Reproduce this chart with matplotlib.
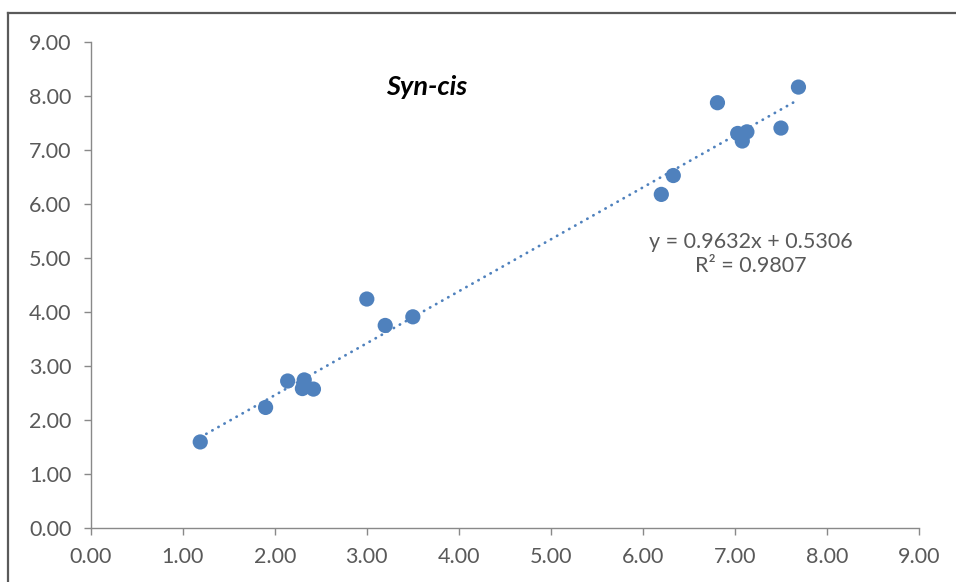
import matplotlib
matplotlib.use("Agg")
import matplotlib.pyplot as plt
from matplotlib.lines import Line2D
import numpy as np

# valeurs
x_vals = [1.19, 1.90, 2.14, 2.32, 2.30, 2.42, 3.00, 3.20, 3.50,
          6.20, 6.33, 6.81, 7.03, 7.08, 7.13, 7.50, 7.69]
y_vals = [1.59, 2.23, 2.72, 2.74, 2.58, 2.57, 4.24, 3.75, 3.91,
          6.18, 6.53, 7.88, 7.31, 7.17, 7.34, 7.41, 8.17]

# courbe de tendance affichée (Excel)
slope = 0.9632
intercept = 0.5306
r2 = 0.9807

ticks = [0, 1, 2, 3, 4, 5, 6, 7, 8, 9]
title = "Syn-cis"

blue = "#4F81BD"
grey_txt = "#595959"
grey_axis = "#898989"

plt.rcParams["font.family"] = ["Lato", "DejaVu Sans"]

fig = plt.figure(figsize=(9.56, 5.82), dpi=100)
ax = fig.add_axes([0.0949, 0.0933, 0.8664, 0.834])

# cadre extérieur (coupé à droite et en bas)
fig.add_artist(Line2D([8 / 956, 8 / 956], [0, 1 - 13 / 582],
                      transform=fig.transFigure, color="#5a5a5a", lw=1.6))
fig.add_artist(Line2D([8 / 956, 1], [1 - 13 / 582, 1 - 13 / 582],
                      transform=fig.transFigure, color="#5a5a5a", lw=1.6))

# tendance linéaire pointillée
xt = np.array([min(x_vals), max(x_vals)])
ax.plot(xt, slope * xt + intercept, color=blue, lw=2.0,
        linestyle=(0, (0.1, 2.4)), dash_capstyle="round", zorder=2)

ax.scatter(x_vals, y_vals, s=120, color=blue, edgecolors="none", zorder=3)

ax.set_xlim(0, 9)
ax.set_ylim(0, 9)
ax.set_xticks(ticks)
ax.set_yticks(ticks)
ax.set_xticklabels([f"{t:.2f}" for t in ticks])
ax.set_yticklabels([f"{t:.2f}" for t in ticks])

for side in ("top", "right"):
    ax.spines[side].set_visible(False)
for side in ("left", "bottom"):
    ax.spines[side].set_color(grey_axis)
    ax.spines[side].set_linewidth(1.0)

ax.tick_params(axis="both", colors=grey_axis, labelcolor=grey_txt,
               labelsize=15.5, length=5, width=1.0)
ax.tick_params(axis="y", pad=9)
ax.tick_params(axis="x", pad=9)

ax.text(0.405, 0.908, title, transform=ax.transAxes, ha="center", va="center",
        fontsize=19.5, fontweight="bold", fontstyle="italic", color="black")

ax.text(0.797, 0.564, f"y = {slope:.4f}x + {intercept:.4f}\nR\u00b2 = {r2:.4f}",
        transform=ax.transAxes, ha="center", va="center", fontsize=15.5,
        color=grey_txt, linespacing=1.25)

fig.savefig("out.png", dpi=100)
